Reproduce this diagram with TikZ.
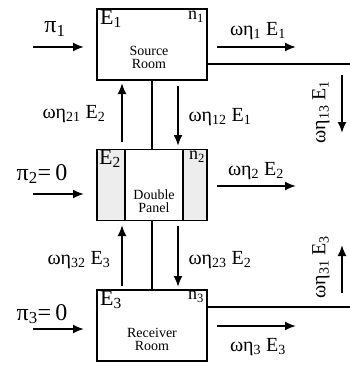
\documentclass[tikz,border=0pt]{standalone}
\usepackage{fontspec}
\setmainfont{Liberation Serif}
\usetikzlibrary{arrows.meta}
\tikzset{
  room/.style={draw, line width=1.8pt, minimum width=110pt, minimum height=71pt, inner sep=0pt},
  flow/.style={line width=1.9pt, -{Latex[length=11pt,width=9pt]}},
  wire/.style={line width=1.8pt},
  lbl/.style={font=\fontsize{20}{22}\selectfont, inner sep=0pt},
  pilbl/.style={font=\fontsize{24}{26}\selectfont, inner sep=0pt},
  ebig/.style={font=\fontsize{22}{24}\selectfont, inner sep=0pt},
  nsmall/.style={font=\fontsize{18}{20}\selectfont, inner sep=0pt},
  rname/.style={font=\fontsize{14}{13}\selectfont, align=center, inner sep=0pt},
}
\begin{document}
\begin{tikzpicture}[x=1pt,y=-1pt]
\useasboundingbox (0,0) rectangle (350,367);
% boxes
\node[room] (src) at (152,44.5) {};
\node[room] (dbl) at (152,185) {};
\node[room] (rcv) at (152,325.5) {};
\fill[gray!14] (dbl.north west) rectangle (125,221);
\fill[gray!14] (183,149) rectangle (dbl.south east);
\draw[wire] (125,149) -- (125,221);
\draw[wire] (183,149) -- (183,221);
\node[room] at (152,185) {};
% box texts
\node[ebig, anchor=north west] (e1) at (100,10) {E\textsubscript{1}};
\node[nsmall, anchor=north east] (n1) at (204,11) {n\textsubscript{1}};
\node[rname] (srcname) at (149,57) {Source\\Room};
\node[ebig, anchor=north west] (e2) at (99,150) {E\textsubscript{2}};
\node[nsmall, anchor=north east] (n2) at (205,151) {n\textsubscript{2}};
\node[rname] (dblname) at (154,201) {Double\\Panel};
\node[ebig, anchor=north west] (e3) at (100,291) {E\textsubscript{3}};
\node[nsmall, anchor=north east] (n3) at (204,291) {n\textsubscript{3}};
\node[rname] (rcvname) at (152,339) {Receiver\\Room};
% vertical links
\draw[wire] (src.south) -- (dbl.north);
\draw[wire] (dbl.south) -- (rcv.north);
% right links
\coordinate (r1) at (350,64);
\coordinate (r3) at (350,307);
\draw[wire] (src.east |- r1) -- (r1);
\draw[wire] (rcv.east |- r3) -- (r3);
% inter-box arrows
\coordinate (a21s) at (122,142); \coordinate (a21e) at (122,83);
\coordinate (a12s) at (178,86); \coordinate (a12e) at (178,146);
\coordinate (a32s) at (122,286); \coordinate (a32e) at (122,225);
\coordinate (a23s) at (178,226); \coordinate (a23e) at (178,287);
\draw[flow] (a21s) -- (a21e);
\draw[flow] (a12s) -- (a12e);
\draw[flow] (a32s) -- (a32e);
\draw[flow] (a23s) -- (a23e);
\node[lbl] (l21) at (74,114) {ωη\textsubscript{21} E\textsubscript{2}};
\node[lbl] (l12) at (220,117) {ωη\textsubscript{12} E\textsubscript{1}};
\node[lbl] (l32) at (79,260) {ωη\textsubscript{32} E\textsubscript{3}};
\node[lbl] (l23) at (220,260) {ωη\textsubscript{23} E\textsubscript{2}};
% loss arrows
\coordinate (o1s) at (217,47); \coordinate (o1e) at (296,47);
\coordinate (o2s) at (217,186); \coordinate (o2e) at (296,186);
\coordinate (o3s) at (217,326); \coordinate (o3e) at (296,326);
\draw[flow] (o1s) -- (o1e);
\draw[flow] (o2s) -- (o2e);
\draw[flow] (o3s) -- (o3e);
\node[lbl] (l1) at (258,31) {ωη\textsubscript{1} E\textsubscript{1}};
\node[lbl] (l2) at (256,171) {ωη\textsubscript{2} E\textsubscript{2}};
\node[lbl] (l3) at (258,347) {ωη\textsubscript{3} E\textsubscript{3}};
% right vertical arrows
\coordinate (v13s) at (342,75); \coordinate (v13e) at (342,133);
\coordinate (v31s) at (342,293); \coordinate (v31e) at (342,245);
\draw[flow] (v13s) -- (v13e);
\draw[flow] (v31s) -- (v31e);
\node[lbl, rotate=90] (l13) at (321,112) {ωη\textsubscript{13} E\textsubscript{1}};
\node[lbl, rotate=90] (l31) at (321,267) {ωη\textsubscript{31} E\textsubscript{3}};
% inputs
\coordinate (p1s) at (33,47); \coordinate (p1e) at (84,47);
\coordinate (p2s) at (33,194); \coordinate (p2e) at (84,194);
\coordinate (p3s) at (33,329); \coordinate (p3e) at (84,329);
\draw[flow] (p1s) -- (p1e);
\draw[flow] (p2s) -- (p2e);
\draw[flow] (p3s) -- (p3e);
\node[pilbl] (pi1) at (55,29) {π\textsubscript{1}};
\node[pilbl] (pi2) at (42,174) {π\textsubscript{2}=\,0};
\node[pilbl] (pi3) at (42,314) {π\textsubscript{3}=\,0};
\end{tikzpicture}
\end{document}
